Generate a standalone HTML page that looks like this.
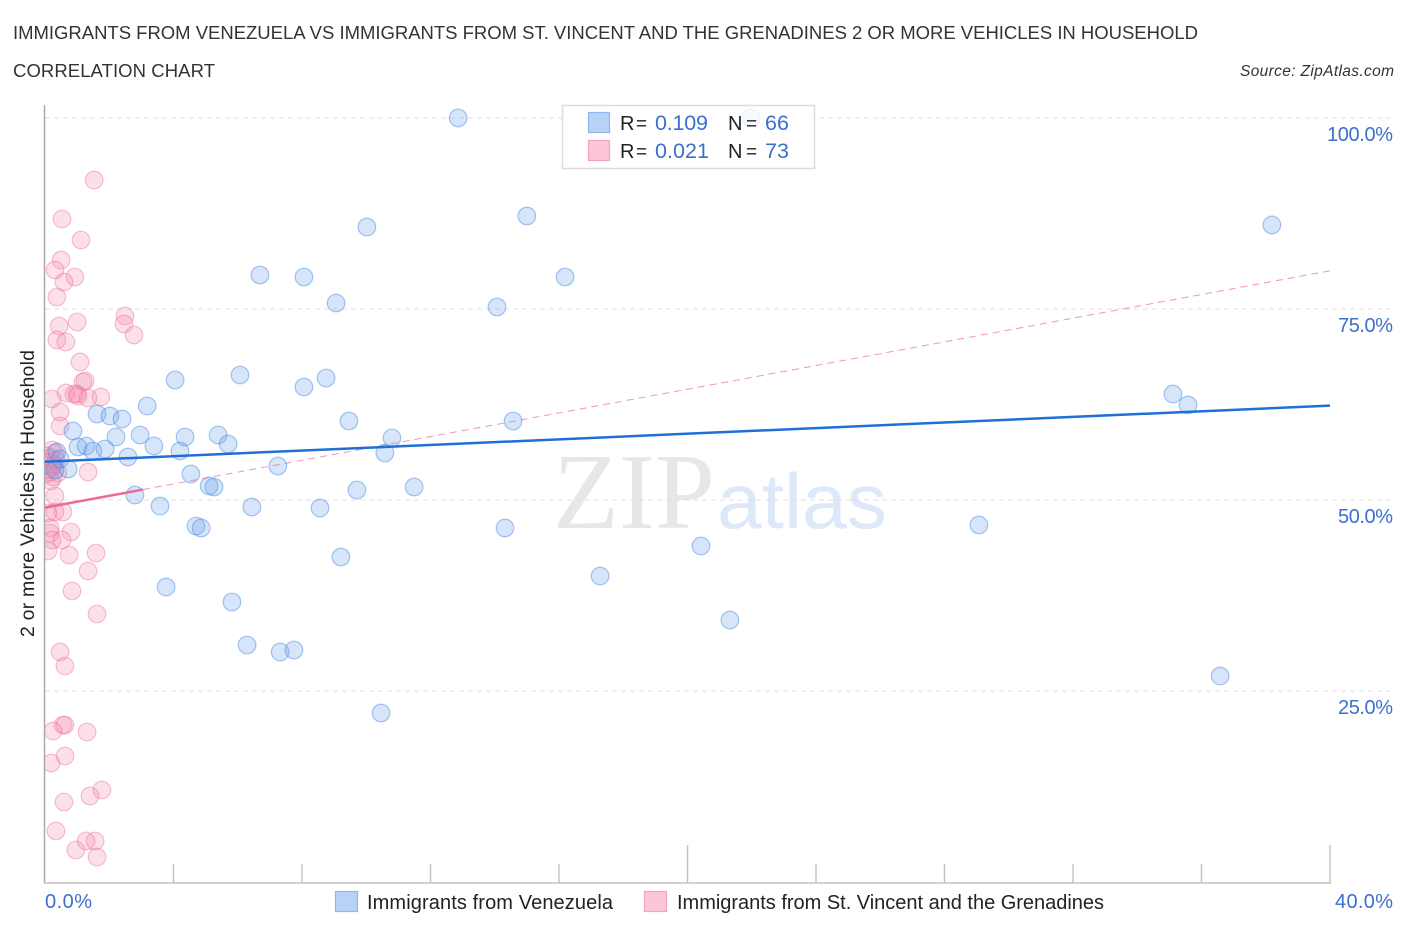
<!DOCTYPE html>
<html lang="en">
<head>
<meta charset="utf-8">
<title>Immigrants from Venezuela vs Immigrants from St. Vincent and the Grenadines Correlation Chart</title>
<style>
html,body{margin:0;padding:0;background:#fff;width:1406px;height:930px;overflow:hidden}
svg{display:block}
text{font-family:"Liberation Sans",sans-serif}
.tl{font-size:20px;fill:#3b6fd0}
.lg{font-size:20px;fill:#222}
.eq{font-size:19px}
.lv{font-size:21.5px;fill:#3b6fd0}
</style>
</head>
<body>
<svg id="chart" xmlns="http://www.w3.org/2000/svg" width="1406" height="930" viewBox="0 0 1406 930">
  <defs>
    <clipPath id="plot-clip"><rect x="45" y="100" width="1300" height="783"/></clipPath>
  </defs>
  <text x="13" y="39" font-size="18.5" fill="#333" textLength="1185" lengthAdjust="spacing">IMMIGRANTS FROM VENEZUELA VS IMMIGRANTS FROM ST. VINCENT AND THE GRENADINES 2 OR MORE VEHICLES IN HOUSEHOLD</text>
  <text x="13" y="77" font-size="18.5" fill="#333" textLength="202" lengthAdjust="spacing">CORRELATION CHART</text>
  <text x="1394" y="76" font-size="15.5" font-style="italic" fill="#333" text-anchor="end" textLength="154" lengthAdjust="spacing">Source: ZipAtlas.com</text>

  <g>
    <text x="553" y="528" style="font-family:'Liberation Serif',serif" font-size="108" fill="#e7e7e7" textLength="162" lengthAdjust="spacingAndGlyphs">ZIP</text>
    <text x="717" y="528" style="font-family:'Liberation Sans',sans-serif" font-size="78" fill="#dde8f8" textLength="170" lengthAdjust="spacingAndGlyphs">atlas</text>
  </g>

  <g id="grid"></g>
  <g id="ticks"></g>
  <g id="tick-labels"></g>
  <line x1="44.5" y1="105" x2="44.5" y2="883" stroke="#aaa" stroke-width="1.5"/>
  <line x1="44" y1="883" x2="1331" y2="883" stroke="#c4c4c4" stroke-width="1.5"/>
  <text transform="translate(34,637) rotate(-90)" font-size="19.5" fill="#222" textLength="287" lengthAdjust="spacing">2 or more Vehicles in Household</text>

  <g id="vincent-points" clip-path="url(#plot-clip)"></g>
  <g id="venezuela-points" clip-path="url(#plot-clip)"></g>
  <g id="trend-lines"></g>

  <g>
    <rect x="562.5" y="105.5" width="252" height="63" fill="#fff" fill-opacity="0.8" stroke="#dcdcdc" stroke-width="1.5"/>
    <rect x="588.5" y="112.5" width="21" height="20" fill="#b8d2f7" stroke="#8fb5ea" stroke-width="1.2"/>
    <text class="lg" x="620" y="130">R <tspan class="eq" x="636">=</tspan></text>
    <text class="lv" x="655" y="130" textLength="53" lengthAdjust="spacing">0.109</text>
    <text class="lg" x="728" y="130">N <tspan class="eq" x="746">=</tspan></text>
    <text class="lv" x="765" y="130" textLength="24" lengthAdjust="spacing">66</text>
    <rect x="588.5" y="140.5" width="21" height="20" fill="#fcc6d8" stroke="#f3a3bd" stroke-width="1.2"/>
    <text class="lg" x="620" y="158">R <tspan class="eq" x="636">=</tspan></text>
    <text class="lv" x="655" y="158" textLength="54" lengthAdjust="spacing">0.021</text>
    <text class="lg" x="728" y="158">N <tspan class="eq" x="746">=</tspan></text>
    <text class="lv" x="765" y="158" textLength="24" lengthAdjust="spacing">73</text>
  </g>

  <g>
    <rect x="335.5" y="891.5" width="22" height="20" fill="#b8d2f7" stroke="#8fb5ea" stroke-width="1.2"/>
    <text x="367" y="909" font-size="20" fill="#222" textLength="246" lengthAdjust="spacing">Immigrants from Venezuela</text>
    <rect x="644.5" y="891.5" width="22" height="20" fill="#fcc6d8" stroke="#f3a3bd" stroke-width="1.2"/>
    <text x="677" y="909" font-size="20" fill="#222" textLength="427" lengthAdjust="spacing">Immigrants from St. Vincent and the Grenadines</text>
  </g>
</svg>
<script>
const yTickValues = [100, 75, 50, 25];
const yTickLabels = ['100.0%', '75.0%', '50.0%', '25.0%'];
const xTickValues = [4, 8, 12, 16, 20, 24, 28, 32, 36, 40];
const xMajorTicks = [20, 40];
const xEndLabels = ['0.0%', '40.0%'];

const venezuelaX = [12.86,21.98,10.02,15.0,38.19,6.69,8.06,16.19,9.06,14.07,8.75,6.07,4.05,8.06,3.18,35.11,35.58,1.62,2.02,2.40,9.46,14.57,0.87,2.21,2.96,4.36,5.39,5.70,10.80,1.03,1.28,1.49,1.87,3.39,4.20,10.58,2.58,7.25,4.54,0.37,0.47,0.72,0.31,5.11,5.26,9.71,11.49,2.80,3.58,6.44,8.56,4.70,4.86,14.32,29.07,20.42,9.21,17.28,3.77,5.82,21.32,6.29,7.32,7.75,36.58,10.46];
const venezuelaY = [100,100,85.73,87.17,86.0,79.45,79.19,79.19,75.79,75.26,65.97,66.36,65.71,64.79,62.30,63.87,62.43,61.26,60.99,60.60,60.34,60.34,59.03,58.25,58.51,58.25,58.51,57.33,58.12,56.94,57.07,56.41,56.68,57.07,56.41,56.15,55.63,54.45,53.40,56.28,55.37,54.06,53.93,51.83,51.70,51.31,51.70,50.65,49.21,49.08,48.95,46.60,46.34,46.34,46.73,43.98,42.54,40.05,38.61,36.65,34.29,31.02,30.10,30.37,26.96,22.12];

const vincentX = [1.53,0.53,1.12,0.50,0.31,0.93,0.59,0.37,2.49,2.46,2.77,1.00,0.44,0.37,0.65,1.09,1.25,1.18,0.65,1.00,1.03,0.90,1.34,1.74,0.22,0.47,0.47,0.22,0.31,0.16,0.22,0.16,0.25,0.40,0.03,1.34,0.31,0.56,0.31,0.09,0.81,0.16,0.16,0.22,0.53,0.09,0.75,1.59,1.34,0.84,1.62,0.47,0.62,0.56,0.62,0.25,1.31,0.62,0.19,1.77,1.40,0.59,0.34,1.28,1.56,0.96,1.62,0.16,0.34,0.28,0.09,0.19,0.03];
const vincentY = [91.88,86.78,84.03,81.41,80.10,79.19,78.53,76.57,74.08,73.04,71.60,73.30,72.77,70.94,70.68,68.06,65.58,65.45,64.00,63.87,63.61,63.87,63.35,63.48,63.22,61.52,59.69,56.54,56.15,54.97,54.32,53.66,53.01,53.53,53.40,53.66,50.52,48.43,48.43,48.30,45.81,46.34,45.68,44.76,44.76,43.32,42.80,43.06,40.71,38.09,35.08,30.10,28.27,20.55,20.55,19.76,19.63,16.49,15.58,12.04,11.26,10.47,6.68,5.37,5.37,4.19,3.27,55.50,55.20,54.60,54.00,52.50,55.80];

const venezuelaFit = [55.0, 62.35];
const vincentFit = [49.0, 80.0];
const vincentSolidEnd = 3.05;

const NS = 'http://www.w3.org/2000/svg';
const xScale = v => 45 + v * (1285 / 40);
const yScale = v => 882 - v * 7.64;
const fitAt = (fit, x) => fit[0] + (fit[1] - fit[0]) * x / 40;

function make(parent, tag, attrs, text) {
  const el = document.createElementNS(NS, tag);
  Object.keys(attrs).forEach(k => el.setAttribute(k, attrs[k]));
  if (text !== undefined) el.textContent = text;
  document.getElementById(parent).appendChild(el);
  return el;
}

yTickValues.forEach((v, i) => {
  const py = yScale(v);
  const g = make('grid', 'line', {x1: 45, x2: 1393, y1: py, y2: py, stroke: '#dfdfdf', 'stroke-width': 1, 'stroke-dasharray': '5 4'});
  
  
  const t = make('tick-labels', 'text', {x: 1393, y: py + 23, 'text-anchor': 'end', class: 'tl', textLength: i === 0 ? 66 : 55, lengthAdjust: 'spacing'}, yTickLabels[i]);
  
  
});

xTickValues.forEach(v => {
  const px = xScale(v);
  const top = xMajorTicks.includes(v) ? 845 : 864;
  const t = make('ticks', 'line', {x1: px, x2: px, y1: top, y2: 883, stroke: '#c4c4c4', 'stroke-width': 1.5});
  
  
});

const x0Label = make('tick-labels', 'text', {x: 45, y: 908, class: 'tl', textLength: 47, lengthAdjust: 'spacing'}, xEndLabels[0]);


const x1Label = make('tick-labels', 'text', {x: 1393, y: 908, 'text-anchor': 'end', class: 'tl', textLength: 58, lengthAdjust: 'spacing'}, xEndLabels[1]);



vincentX.forEach((v, i) => {
  const c = make('vincent-points', 'circle', {cx: xScale(v), cy: yScale(vincentY[i]), r: 8.8, fill: '#f58bae', 'fill-opacity': 0.27, stroke: '#ec6d97', 'stroke-opacity': 0.42, 'stroke-width': 1.2});
  
  
});

venezuelaX.forEach((v, i) => {
  const c = make('venezuela-points', 'circle', {cx: xScale(v), cy: yScale(venezuelaY[i]), r: 8.8, fill: '#6ba3ec', 'fill-opacity': 0.28, stroke: '#4a8ae0', 'stroke-opacity': 0.48, 'stroke-width': 1.2});
  
  
});

const vDash = make('trend-lines', 'line', {x1: xScale(vincentSolidEnd), y1: yScale(fitAt(vincentFit, vincentSolidEnd)), x2: xScale(40), y2: yScale(fitAt(vincentFit, 40)), stroke: '#ea6a94', 'stroke-width': 1, 'stroke-dasharray': '7 5', 'stroke-opacity': 0.7});


const vSolid = make('trend-lines', 'line', {x1: xScale(0), y1: yScale(fitAt(vincentFit, 0)), x2: xScale(vincentSolidEnd), y2: yScale(fitAt(vincentFit, vincentSolidEnd)), stroke: '#ea6a94', 'stroke-width': 2.5});


const bSolid = make('trend-lines', 'line', {x1: xScale(0), y1: yScale(fitAt(venezuelaFit, 0)), x2: xScale(40), y2: yScale(fitAt(venezuelaFit, 40)), stroke: '#1f6fd6', 'stroke-width': 2.5});


</script>
</body>
</html>
